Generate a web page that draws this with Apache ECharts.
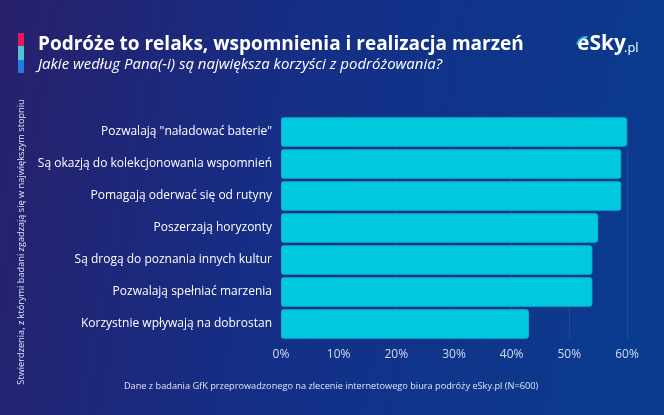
<!DOCTYPE html>
<html><head><meta charset="utf-8">
<script src="https://cdn.jsdelivr.net/npm/echarts@6/dist/echarts.min.js"></script>
<style>html,body{margin:0;padding:0;background:#1a2a7a}#c{width:664px;height:415px}</style>
</head><body><div id="c"></div>
<script>
const categories = [
  'Pozwalają "naładować baterie"',
  'Są okazją do kolekcjonowania wspomnień',
  'Pomagają oderwać się od rutyny',
  'Poszerzają horyzonty',
  'Są drogą do poznania innych kultur',
  'Pozwalają spełniać marzenia',
  'Korzystnie wpływają na dobrostan'
];
const values = [60, 59, 59, 55, 54, 54, 43];
const tickLabels = ['0%','10%','20%','30%','40%','50%','60%'];
const titleText = 'Podróże to relaks, wspomnienia i realizacja marzeń';
const subtitleText = 'Jakie według Pana(-i) są największa korzyści z podróżowania?';
const sideText = 'Stwierdzenia, z którymi badani zgadzają się w największym stopniu';
const footerText = 'Dane z badania GfK przeprowadzonego na zlecenie internetowego biura podróży eSky.pl (N=600)';

const chart = echarts.init(document.getElementById('c'));
const font = '"Open Sans", "Noto Sans", sans-serif';
chart.setOption({
  backgroundColor: new echarts.graphic.LinearGradient(0,0,1,0.3,[
    {offset:0,color:'#28206b'},
    {offset:0.45,color:'#152e86'},
    {offset:1,color:'#0a3b8e'}
  ]),
  textStyle:{fontFamily:font},
  grid:{left:281,right:37,top:116,bottom:75},
  xAxis:{
    type:'value',min:0,max:60,interval:10,
    axisLine:{show:false},axisTick:{show:false},
    splitLine:{show:true,lineStyle:{color:'rgba(255,255,255,0.08)',width:1}},
    axisLabel:{color:'#d4daf0',fontSize:12,fontFamily:font,margin:9,
      formatter:(v)=>tickLabels[Math.round(v/10)]}
  },
  yAxis:{
    type:'category',data:categories,inverse:true,
    axisLine:{show:false},axisTick:{show:false},
    axisLabel:{color:'#ffffff',fontSize:12,fontFamily:font,margin:9}
  },
  series:[{
    type:'bar',data:values,barCategoryGap:'8%',
    itemStyle:{color:'#00c9df',borderColor:'#0bb3cc',borderWidth:1,borderRadius:2},
    silent:true
  }],
  graphic:[
    {type:'rect',shape:{x:18,y:33,width:6,height:13},style:{fill:'#e8175d'}},
    {type:'rect',shape:{x:18,y:46,width:6,height:14},style:{fill:'#4fc3d9'}},
    {type:'rect',shape:{x:18,y:60,width:6,height:13},style:{fill:'#1f7fe0'}},
    {type:'text',left:38,top:35,style:{text:titleText,fill:'#ffffff',font:'bold 19px '+font}},
    {type:'text',left:38,top:57,style:{text:subtitleText,fill:'#ffffff',font:'italic 15px '+font}},
    {type:'text',left:577,top:34,style:{text:'eSky',fill:'#ffffff',font:'bold 21px '+font}},
    {type:'text',left:624,top:42,style:{text:'.pl',fill:'#ffffff',font:'13px '+font}},
    {type:'arc',shape:{cx:586,cy:46,r:9,startAngle:Math.PI*1.05,endAngle:Math.PI*1.55},style:{stroke:'#29b6f6',lineWidth:2,fill:null}},
    {type:'text',x:21,y:242,rotation:Math.PI/2,
      style:{text:sideText,fill:'#e0e6f7',font:'9.2px '+font,align:'center',verticalAlign:'middle'}},
    {type:'text',x:331,y:386,style:{text:footerText,fill:'#dfe4f5',font:'9.2px '+font,align:'center',verticalAlign:'middle'}}
  ]
});
</script></body></html>
